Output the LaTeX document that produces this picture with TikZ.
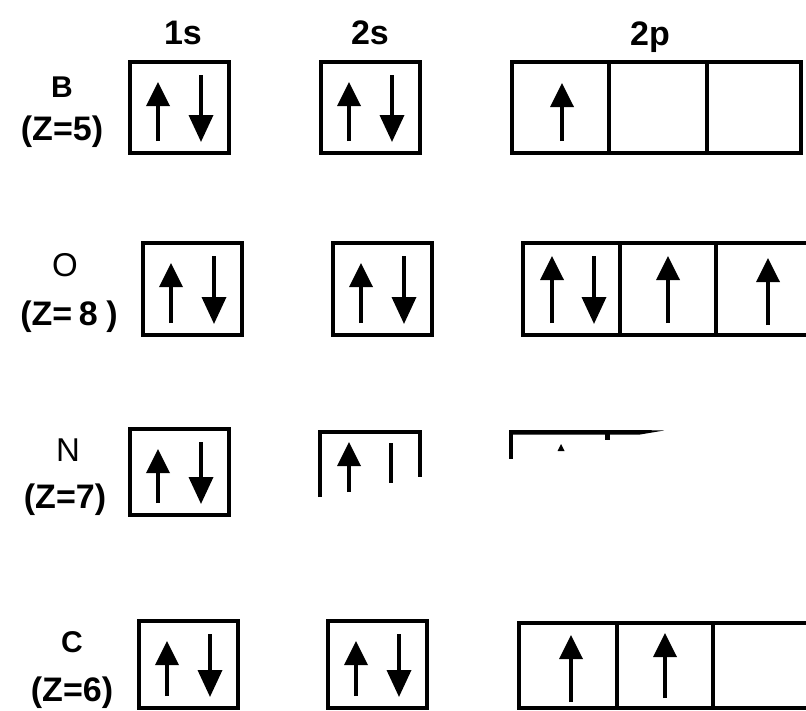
\documentclass[tikz,border=0pt]{standalone}
\usepackage{fontspec}
\setmainfont{Liberation Sans}
\usetikzlibrary{arrows.meta}

% Orbital box diagrams: one unit is one point, y grows downwards
\tikzset{
  orb/.style={line width=4pt, line join=miter},
  spinup/.style={line width=3.6pt, -{Triangle[length=24pt,width=23pt]}},
  spindown/.style={line width=3.6pt, -{Triangle[length=27pt,width=24pt]}},
  hdr/.style={font=\bfseries\fontsize{34}{34}\selectfont, inner sep=0pt},
  elem/.style={font=\bfseries\fontsize{30}{30}\selectfont, inner sep=0pt},
  elemthin/.style={font=\fontsize{33}{33}\selectfont, inner sep=0pt},
  zval/.style={font=\bfseries\fontsize{34}{34}\selectfont, inner sep=0pt},
}

% single-arrow helpers: x, tip y, tail y
\newcommand\spinU[3]{\draw[spinup] (#1,#3) -- (#1,#2);}
\newcommand\spinD[3]{\draw[spindown] (#1,#2) -- (#1,#3);}
% a filled orbital: left x, top y, bottom y
\newcommand\pairbox[3]{%
  \draw[orb] (#1,#2) rectangle ++(99,#3-#2);
  \spinU{#1+28}{#2+20}{#3-12}
  \spinD{#1+71}{#2+13}{#3-11}}

\begin{document}
\begin{tikzpicture}[x=1pt,y=-1pt]
\path[use as bounding box] (0,0) rectangle (806,710);
\clip (0,0) rectangle (806,710);
\fill[white] (0,0) rectangle (806,710);

% column headings
\node[hdr] (h1s) at (183,33) {1s};
\node[hdr] (h2s) at (370,33) {2s};
\node[hdr, anchor=base] (h2p) at (650,45) {2p};

% ---- boron ----
\node[elem] (lB) at (62,87) {B};
\node[zval] (zB) at (62,132) {(Z=5)};
\pairbox{130}{62}{153}
\pairbox{321}{62}{153}
\draw[orb] (512,62) rectangle (801,153);
\draw[orb] (609,62) -- (609,153);
\draw[orb] (707,62) -- (707,153);
\spinU{562}{83}{141}

% ---- oxygen ----
\node[elemthin] (lO) at (65,265) {O};
\node[zval] (zO) at (69,317) {(Z=\hspace{0.2em}8\hspace{0.25em})};
\pairbox{143}{243}{335}
\pairbox{333}{243}{335}
\draw[orb] (523,243) rectangle (830,335);
\draw[orb] (620,243) -- (620,335);
\draw[orb] (716,243) -- (716,335);
\spinU{552}{256}{323}
\spinD{594}{256}{324}
\spinU{668}{256}{323}
\spinU{768}{258}{325}

% ---- nitrogen (partly lost) ----
\node[elemthin] (lN) at (68,450) {N};
\node[zval] (zN) at (65,500) {(Z=7)};
\pairbox{130}{429}{515}
\draw[orb] (320,497) -- (320,432) -- (420,432) -- (420,477);
\spinU{349}{442}{492}
\draw[line width=3.6pt] (391,443) -- (391,483);
\fill (509,430) -- (640,430) -- (664,430.5) -- (640,434.5) -- (509,434.5) -- cycle;
\draw[orb] (511,432) -- (511,459);
\draw[line width=5pt] (607,432) -- (607,440);
\fill (561,444) -- (564.5,451) -- (557.5,451) -- cycle;

% ---- carbon ----
\node[elem] (lC) at (72,642) {C};
\node[zval] (zC) at (72,693) {(Z=6)};
\pairbox{139}{621}{708}
\pairbox{328}{621}{708}
\draw[orb] (519,623) rectangle (830,708);
\draw[orb] (617,623) -- (617,708);
\draw[orb] (713,623) -- (713,708);
\spinU{571}{635}{702}
\spinU{665}{633}{698}
\end{tikzpicture}
\end{document}
